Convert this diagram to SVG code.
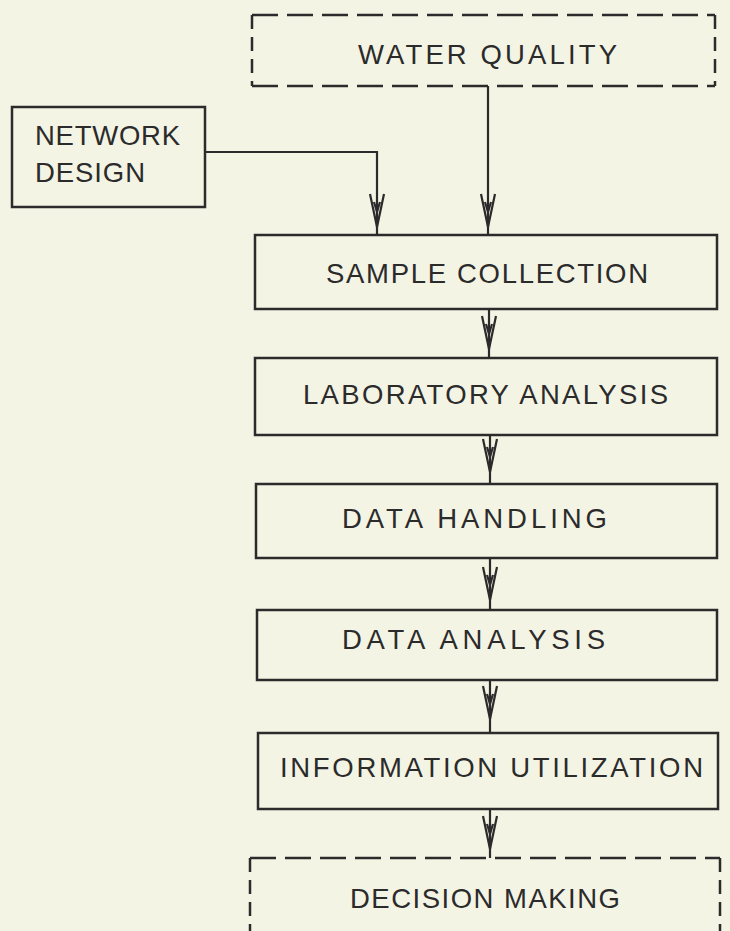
<svg xmlns="http://www.w3.org/2000/svg" xmlns:xlink="http://www.w3.org/1999/xlink" width="730" height="931" viewBox="0 0 730 931">
<style>
.bg{fill:#f4f4e5}
.box{fill:none;stroke:#2b2b2b;stroke-width:2.5}
.dh{stroke:#2b2b2b;stroke-width:2.5;stroke-dasharray:26 9;fill:none}
.dv{stroke:#2b2b2b;stroke-width:2.5;stroke-dasharray:14 8;fill:none}
.ln{stroke:#2b2b2b;stroke-width:2.2;fill:none}
.t{font-family:"Liberation Sans",Arial,sans-serif;font-size:27.5px;fill:#2b2b2b}
.ah{fill:none;stroke:#2b2b2b;stroke-width:2.2;stroke-linejoin:miter}
</style>
<defs>
<g id="head">
<path class="ah" d="M-7,0 L0,33 L7,0"/>
<path class="ah" d="M-3,8 L0,18 L3,8"/>
</g>
</defs>
<rect class="bg" x="0" y="0" width="730" height="931"/>

<g id="connectors">
<path class="ln" d="M488,86 V235"/>
<use xlink:href="#head" x="488" y="194"/>
<path class="ln" d="M205,152 H377 V235"/>
<use xlink:href="#head" x="377" y="194"/>
<path class="ln" d="M489,309 V358"/>
<use xlink:href="#head" x="489" y="316"/>
<path class="ln" d="M490,435 V484"/>
<use xlink:href="#head" x="490" y="439"/>
<path class="ln" d="M490,558 V610"/>
<use xlink:href="#head" x="490" y="567"/>
<path class="ln" d="M490,680 V733"/>
<use xlink:href="#head" x="490" y="686"/>
<path class="ln" d="M490,809 V858"/>
<use xlink:href="#head" x="490" y="816"/>
</g>

<g id="water-quality">
<path class="dh" d="M252,15 H715"/>
<path class="dh" d="M252,86 H715"/>
<path class="dv" d="M252,15 V86"/>
<path class="dv" d="M715,15 V86"/>
<text class="t" x="358" y="64" textLength="259" lengthAdjust="spacing">WATER QUALITY</text>
</g>

<g id="network-design">
<rect class="box" x="12" y="107" width="193" height="100"/>
<text class="t" x="35" y="145" textLength="145" lengthAdjust="spacing">NETWORK</text>
<text class="t" x="35" y="182" textLength="110" lengthAdjust="spacing">DESIGN</text>
</g>

<g id="sample-collection">
<rect class="box" x="255" y="235" width="462" height="74"/>
<text class="t" x="326" y="283" textLength="322" lengthAdjust="spacing">SAMPLE COLLECTION</text>
</g>

<g id="laboratory-analysis">
<rect class="box" x="255" y="358" width="462" height="77"/>
<text class="t" x="303" y="404" textLength="365" lengthAdjust="spacing">LABORATORY ANALYSIS</text>
</g>

<g id="data-handling">
<rect class="box" x="256" y="484" width="461" height="74"/>
<text class="t" x="342" y="528" textLength="265" lengthAdjust="spacing">DATA HANDLING</text>
</g>

<g id="data-analysis">
<rect class="box" x="257" y="610" width="460" height="70"/>
<text class="t" x="342" y="649" textLength="263" lengthAdjust="spacing">DATA ANALYSIS</text>
</g>

<g id="information-utilization">
<rect class="box" x="258" y="733" width="460" height="76"/>
<text class="t" x="280" y="777" textLength="423" lengthAdjust="spacing">INFORMATION UTILIZATION</text>
</g>

<g id="decision-making">
<path class="dh" d="M250,858 H720"/>
<path class="dv" d="M250,858 V940"/>
<path class="dv" d="M720,858 V940"/>
<text class="t" x="350" y="908" textLength="270" lengthAdjust="spacing">DECISION MAKING</text>
</g>
</svg>
